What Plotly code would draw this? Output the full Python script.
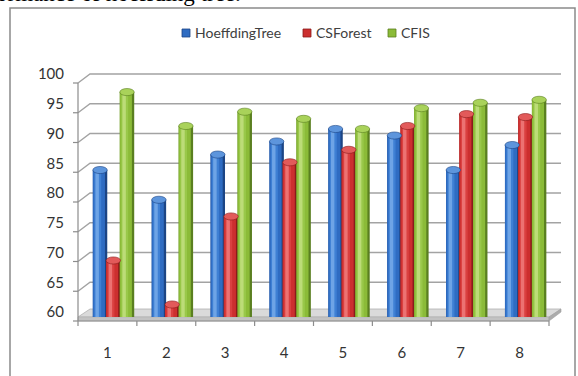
import plotly.graph_objects as go

# ---- data -------------------------------------------------------------
categories = [1, 2, 3, 4, 5, 6, 7, 8]
tick_labels = ["1", "2", "3", "4", "5", "6", "7", "8"]
hoeffding_tree = [84.7, 79.7, 87.3, 89.5, 91.6, 90.5, 84.7, 88.9]
cs_forest = [69.5, 62.1, 76.9, 86.0, 88.1, 92.1, 94.1, 93.6]
cfis = [97.8, 92.1, 94.5, 93.3, 91.6, 95.1, 96.0, 96.5]
y_ticks = [60, 65, 70, 75, 80, 85, 90, 95, 100]

# ---- canvas helpers (pixel -> paper) ----------------------------------
W, H = 578, 376


def px(x):
    return x / W


def py(y):
    return 1 - y / H


# bar plane: x 84..555 px, value 60 -> 317 px, 100 -> 79 px
PLOT_X0, PLOT_X1 = 84, 555
Y60, Y100 = 317, 79
SCALE = (Y60 - Y100) / 40.0


def plane_y(v, dy):
    return Y60 - (v - 60) * SCALE + dy


FRONT_DX, FRONT_DY = -6, 4
BACK_DX, BACK_DY = 6, -5

BAR_W = 0.245
series = [
    dict(name="HoeffdingTree", values=hoeffding_tree, offset=-0.35,
         dark="#1c4585", main="#2f6cc2", mid="#3f80d4", light="#6ea4e6",
         top="#5d95dc"),
    dict(name="CSForest", values=cs_forest, offset=-0.125,
         dark="#8a1b1b", main="#cc2f2f", mid="#da4040", light="#ec7272",
         top="#e25a5a"),
    dict(name="CFIS", values=cfis, offset=0.108,
         dark="#5a7f20", main="#8bbb38", mid="#99c84a", light="#bcdc78",
         top="#a9d25a"),
]

# strips that shade each column like a cylinder: (start, width, colour key)
strips = [(0.0, 1.0, "dark"), (0.0, 0.84, "main"),
          (0.10, 0.48, "mid"), (0.18, 0.24, "light")]

fig = go.Figure()
shapes = []
annotations = []

for s in series:
    for start, frac, key in strips:
        fig.add_trace(go.Bar(
            x=categories, y=s["values"], name=s["name"],
            width=BAR_W * frac, offset=s["offset"] + BAR_W * start,
            marker=dict(color=s[key], line=dict(width=0)),
            showlegend=False, hoverinfo="skip",
        ))
    for c, v in zip(categories, s["values"]):
        shapes.append(dict(
            type="circle", xref="x", yref="y", layer="above",
            x0=c + s["offset"], x1=c + s["offset"] + BAR_W,
            y0=v - 0.6, y1=v + 0.6,
            fillcolor=s["top"], line=dict(color=s["dark"], width=0.6),
        ))

# ---- 3-D frame: walls, floor and front axes ---------------------------
grid_col = "#a3a3a3"
axis_col = "#8c8c8c"

fx0, fx1 = PLOT_X0 + FRONT_DX, PLOT_X1 + FRONT_DX
bx0, bx1 = PLOT_X0 + BACK_DX, PLOT_X1 + BACK_DX

for v in y_ticks[1:]:
    yf = plane_y(v, FRONT_DY)
    yb = plane_y(v, BACK_DY)
    shapes.append(dict(
        type="path", xref="paper", yref="paper", layer="below",
        path=f"M{px(fx0)},{py(yf)} L{px(bx0)},{py(yb)} L{px(bx1)},{py(yb)}",
        line=dict(color=grid_col, width=1.4),
    ))

# floor slab
yf60 = plane_y(60, FRONT_DY)
yb60 = plane_y(60, BACK_DY)
top_face = (f"M{px(fx0)},{py(yf60 - 4)} L{px(fx1)},{py(yf60 - 4)} "
            f"L{px(bx1)},{py(yb60 - 3)} L{px(bx0)},{py(yb60 - 3)} Z")
shapes.append(dict(type="path", xref="paper", yref="paper", layer="below",
                   path=top_face, fillcolor="#dadada",
                   line=dict(color="#b0b0b0", width=0.8)))
shapes.append(dict(type="rect", xref="paper", yref="paper", layer="below",
                   x0=px(fx0), x1=px(fx1), y0=py(yf60), y1=py(yf60 - 4),
                   fillcolor="#c2c2c2", line=dict(color="#b0b0b0", width=0.6)))
side_face = (f"M{px(fx1)},{py(yf60 - 4)} L{px(bx1)},{py(yb60 - 3)} "
             f"L{px(bx1)},{py(yb60)} L{px(fx1)},{py(yf60)} Z")
shapes.append(dict(type="path", xref="paper", yref="paper", layer="below",
                   path=side_face, fillcolor="#ababab",
                   line=dict(color="#a0a0a0", width=0.6)))

# front vertical axis with ticks
shapes.append(dict(type="line", xref="paper", yref="paper", layer="below",
                   x0=px(fx0), x1=px(fx0),
                   y0=py(plane_y(100, FRONT_DY)), y1=py(yf60),
                   line=dict(color=axis_col, width=1.2)))
for v in y_ticks:
    yf = plane_y(v, FRONT_DY)
    shapes.append(dict(type="line", xref="paper", yref="paper", layer="below",
                       x0=px(fx0 - 5), x1=px(fx0), y0=py(yf), y1=py(yf),
                       line=dict(color=axis_col, width=1.2)))

# front horizontal axis with category separators
shapes.append(dict(type="line", xref="paper", yref="paper", layer="below",
                   x0=px(fx0), x1=px(fx1), y0=py(yf60), y1=py(yf60),
                   line=dict(color=axis_col, width=1.2)))
step = (fx1 - fx0) / len(categories)
for k in range(len(categories) + 1):
    xx = fx0 + k * step
    shapes.append(dict(type="line", xref="paper", yref="paper", layer="below",
                       x0=px(xx), x1=px(xx), y0=py(yf60), y1=py(yf60 + 5),
                       line=dict(color=axis_col, width=1.2)))

# chart frame
shapes.append(dict(type="rect", xref="paper", yref="paper", layer="below",
                   x0=px(10), x1=px(575), y0=py(8), y1=py(390),
                   line=dict(color="#8a8a8a", width=1.5),
                   fillcolor="rgba(0,0,0,0)"))

# ---- legend -----------------------------------------------------------
legend_items = [("HoeffdingTree", 182, series[0]),
                ("CSForest", 303, series[1]),
                ("CFIS", 388, series[2])]
LEG_Y = 33
for label, x_sq, s in legend_items:
    shapes.append(dict(type="rect", xref="paper", yref="paper", layer="above",
                       x0=px(x_sq), x1=px(x_sq + 8),
                       y0=py(LEG_Y + 4), y1=py(LEG_Y - 4),
                       fillcolor=s["main"], line=dict(color=s["dark"], width=0.8)))
    annotations.append(dict(
        xref="paper", yref="paper", x=px(x_sq + 11), y=py(LEG_Y),
        xanchor="left", yanchor="middle", showarrow=False, text=label,
        font=dict(family="Lato", size=14, color="#404040"),
    ))

# caption running along the top edge (mostly above the page)
annotations.append(dict(
    xref="paper", yref="paper", x=px(243), y=py(8.5),
    xanchor="right", yanchor="bottom", showarrow=False,
    text="performance of hoeffding tree.",
    font=dict(family="Liberation Serif", size=23, color="#000000"),
))

fig.update_layout(
    template="none",
    width=W, height=H,
    margin=dict(l=0, r=0, t=0, b=0, pad=0, autoexpand=False),
    paper_bgcolor="white",
    plot_bgcolor="rgba(0,0,0,0)",
    barmode="overlay",
    showlegend=False,
    shapes=shapes,
    annotations=annotations,
    xaxis=dict(
        domain=[px(PLOT_X0), px(PLOT_X1)], automargin=False,
        range=[0.5, 8.5], tickvals=categories, ticktext=tick_labels,
        showgrid=False, zeroline=False, showline=False, ticks="",
        ticklabelstandoff=25, ticklabelshift=-6,
        tickfont=dict(family="Lato", size=15, color="#333333"),
        fixedrange=True,
    ),
    yaxis=dict(
        domain=[py(Y60), py(Y100)], automargin=False,
        range=[60, 100], tickvals=y_ticks,
        showgrid=False, zeroline=False, showline=False, ticks="",
        ticklabelstandoff=19, ticklabelshift=-5,
        tickfont=dict(family="Lato", size=15, color="#333333"),
        fixedrange=True,
    ),
)

fig.write_html("out.html")
